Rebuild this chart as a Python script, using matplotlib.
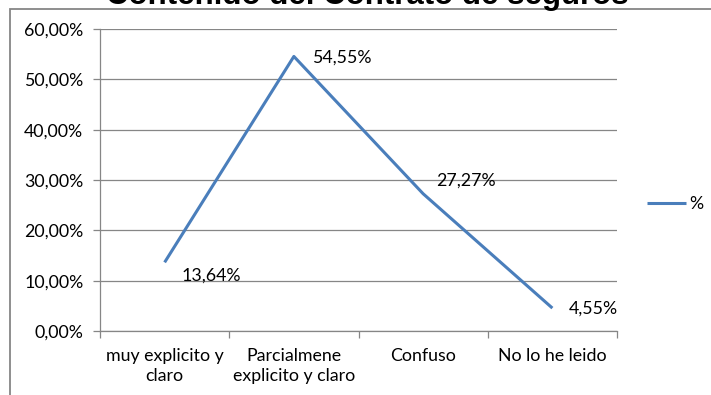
import matplotlib
matplotlib.use("Agg")
import matplotlib.pyplot as plt
from matplotlib.patches import Rectangle
from matplotlib.ticker import FuncFormatter, FixedLocator

categorias = ["muy explicito y\nclaro", "Parcialmene\nexplicito y claro", "Confuso", "No lo he leido"]
porcentajes = [13.64, 54.55, 27.27, 4.55]
etiquetas = ["13,64%", "54,55%", "27,27%", "4,55%"]
titulo = "Contenido del Contrato de seguros"
serie = "%"

W, H = 711, 395
fig = plt.figure(figsize=(W / 100, H / 100), dpi=100)
plt.rcParams["font.family"] = ["Lato", "DejaVu Sans"]

gris = "#868686"
azul = "#4A7EBB"
fs = 12.8

# marco del grafico (se sale por la derecha y por abajo)
fig.patches.append(Rectangle((10 / W, -0.1), 1.2, 1 - 9 / H + 0.1, transform=fig.transFigure,
                             fill=False, edgecolor=gris, lw=1.3))

fig.text(367 / W, 1 - 4 / H, titulo, ha="center", va="baseline", fontsize=22.5,
         fontweight="bold", family="Liberation Sans")

ax = fig.add_axes([100 / W, 1 - 331 / H, 517 / W, 302 / H])
x = list(range(len(categorias)))
line, = ax.plot(x, porcentajes, color=azul, lw=2.2, solid_capstyle="butt", label=serie)

ax.set_xlim(-0.5, len(categorias) - 0.5)
ax.set_ylim(0, 60)
ax.set_yticks(range(0, 61, 10))
ax.yaxis.set_major_formatter(FuncFormatter(lambda v, p: f"{v:.2f}%".replace(".", ",")))
ax.yaxis.grid(True, color=gris, lw=0.9)
ax.set_axisbelow(True)

ax.set_xticks(x)
ax.set_xticklabels(categorias, fontsize=fs, linespacing=1.35)
ax.xaxis.set_minor_locator(FixedLocator([i - 0.5 for i in range(len(categorias) + 1)]))
ax.tick_params(axis="x", which="major", length=0, pad=12)
ax.tick_params(axis="x", which="minor", length=5, color=gris, width=0.9)
ax.tick_params(axis="y", length=5, color=gris, width=0.9, labelsize=fs, pad=7)

for s in ["top", "right"]:
    ax.spines[s].set_visible(False)
for s in ["left", "bottom"]:
    ax.spines[s].set_color(gris)
    ax.spines[s].set_linewidth(0.9)

# etiquetas de datos con desplazamientos en pixeles
offsets = [(17, -13), (18, -1), (13, 13), (16, -1)]
for xi, yi, txt, (dx, dy) in zip(x, porcentajes, etiquetas, offsets):
    ax.annotate(txt, (xi, yi), xytext=(dx * 0.72, dy * 0.72), textcoords="offset points",
                ha="left", va="center", fontsize=fs)

fig.legend(handles=[line], loc="center left", bbox_to_anchor=(647 / W, 1 - 204 / H),
           frameon=False, fontsize=fs, handlelength=2.2, handletextpad=0.2,
           borderpad=0, borderaxespad=0)

fig.savefig("out.png", dpi=100)
